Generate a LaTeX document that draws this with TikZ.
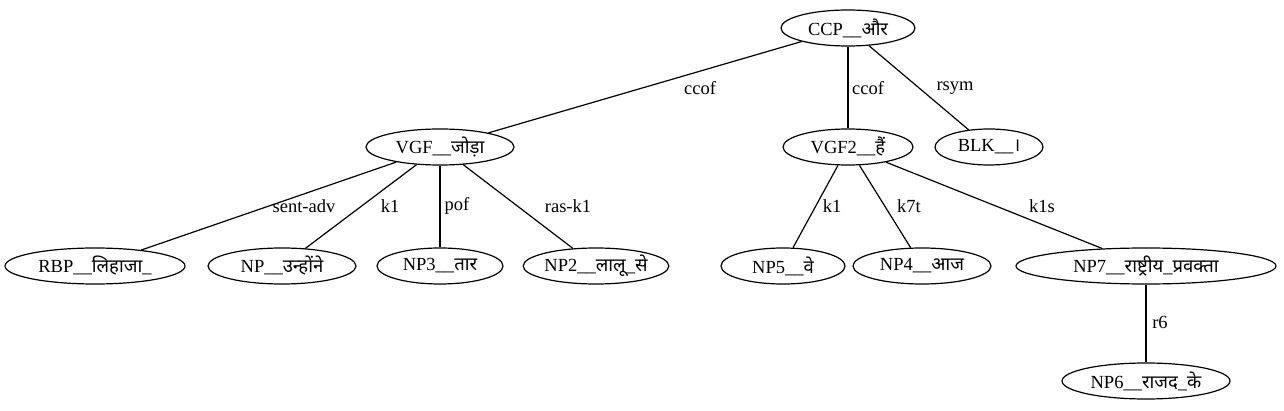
\documentclass[tikz,border=0pt]{standalone}
\usepackage{fontspec}
\usetikzlibrary{shapes.geometric}
\setmainfont{Liberation Serif}
\newfontfamily\deva[Script=Devanagari]{Noto Sans}
\begin{document}
\begin{tikzpicture}[x=1pt,y=-1pt,
  nd/.style={draw,line width=1.2pt,ellipse,minimum height=36pt,inner sep=0pt,font=\fontsize{18.5}{20}\selectfont},
  lbl/.style={font=\fontsize{18.5}{20}\selectfont},
  edge/.style={draw,line width=1.2pt}]
\useasboundingbox (0,0) rectangle (1284,411);
\node[nd,minimum width=134pt] (ccp) at (848,28) {CCP\_\_{\deva और}};
\node[nd,minimum width=148pt] (vgf) at (440,147) {VGF\_\_{\deva जोड़ा}};
\node[nd,minimum width=130pt] (vgf2) at (848,147) {VGF2\_\_{\deva हैं}};
\node[nd,minimum width=108pt] (blk) at (989,147) {BLK\_\_{\deva ।}};
\node[nd,minimum width=180pt] (rbp) at (95,266) {RBP\_\_{\deva लिहाजा}\_};
\node[nd,minimum width=148pt] (np) at (282,266) {NP\_\_{\deva उन्होंने}};
\node[nd,minimum width=126pt] (np3) at (440,266) {NP3\_\_{\deva तार}};
\node[nd,minimum width=140pt] (np2) at (596,266) {NP2\_\_{\deva लालू}\_{\deva से}};
\node[nd,minimum width=124pt] (np5) at (783,266) {NP5\_\_{\deva वे}};
\node[nd,minimum width=138pt] (np4) at (922,266) {NP4\_\_{\deva आज}};
\node[nd,minimum width=260pt] (np7) at (1146,266) {NP7\_\_{\deva राष्ट्रीय}\_{\deva प्रवक्ता}};
\node[nd,minimum width=168pt] (np6) at (1146,381) {NP6\_\_{\deva राजद}\_{\deva के}};
\draw[edge] (ccp) -- (vgf);
\draw[edge] (ccp) -- (vgf2);
\draw[edge] (ccp) -- (blk);
\draw[edge] (vgf) -- (rbp);
\draw[edge] (vgf) -- (np);
\draw[edge] (vgf) -- (np3);
\draw[edge] (vgf) -- (np2);
\draw[edge] (vgf2) -- (np5);
\draw[edge] (vgf2) -- (np4);
\draw[edge] (vgf2) -- (np7);
\draw[edge] (np7) -- (np6);
\node[lbl] (l1) at (700,88) {ccof};
\node[lbl] (l2) at (868,88) {ccof};
\node[lbl] (l3) at (955,88) {rsym};
\node[lbl] (l4) at (304,206) {sent-adv};
\node[lbl] (l5) at (390,206) {k1};
\node[lbl] (l6) at (457,206) {pof};
\node[lbl] (l7) at (568,206) {ras-k1};
\node[lbl] (l8) at (832,206) {k1};
\node[lbl] (l9) at (909,206) {k7t};
\node[lbl] (l10) at (1042,206) {k1s};
\node[lbl] (l11) at (1160,322) {r6};
\end{tikzpicture}
\end{document}
